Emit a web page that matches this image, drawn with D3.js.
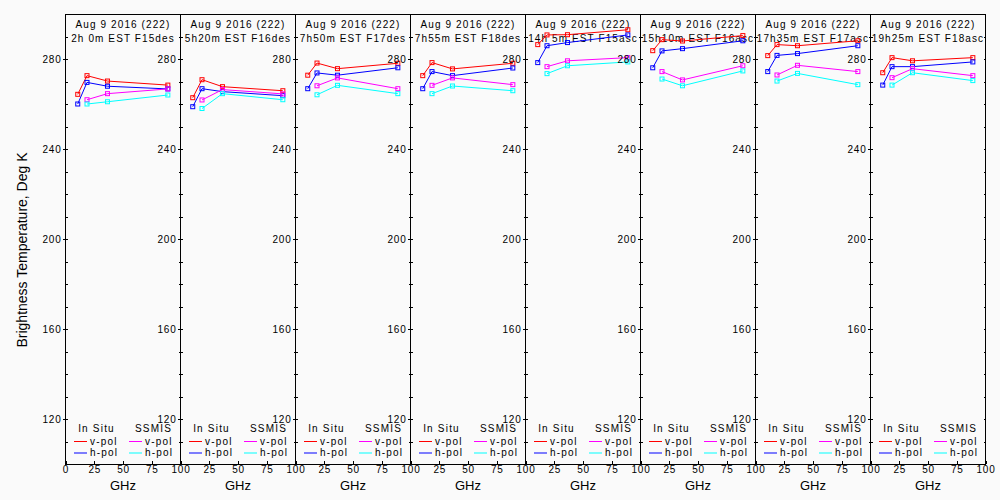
<!DOCTYPE html>
<html>
<head>
<meta charset="utf-8">
<script src="https://cdn.jsdelivr.net/npm/d3@7"></script>
<style>
body { margin: 0; background: #fafafa; }
svg { display: block; font-family: "Liberation Sans", Arial, sans-serif; }
.axis path.domain { display: none; }
.axis line { stroke: #000; shape-rendering: crispEdges; }
.axis text { fill: #000; font-size: 10px; letter-spacing: 0.8px; }
</style>
</head>
<body>
<svg id="chart" width="1000" height="500"></svg>
<script>

// channel frequencies, GHz
let inSituFreq = [10.65, 18.7, 36.5, 89]
let ssmisFreq = [18.7, 36.5, 89]

let dateLabel = "Aug  9 2016 (222)"
let passLabels = [" 2h 0m EST F15des", " 5h20m EST F16des", " 7h50m EST F17des", " 7h55m EST F18des",
    "14h 5m EST F15asc", "15h10m EST F16asc", "17h35m EST F17asc", "19h25m EST F18asc"]

// brightness temperatures (K), one row per panel
let inSituV = [
    [264.3, 272.6, 270.2, 268.4],
    [262.8, 270.8, 267.7, 265.9],
    [272.8, 278.2, 275.7, 278.1],
    [272.6, 278.4, 275.6, 278.1],
    [286.4, 290.7, 290.8, 293.0],
    [283.7, 288.6, 288.0, 290.4],
    [281.5, 286.4, 285.9, 288.1],
    [273.9, 280.6, 279.2, 280.6]
]
let inSituH = [
    [260.0, 269.6, 267.9, 266.7],
    [258.8, 266.8, 265.5, 263.7],
    [266.8, 273.8, 272.8, 276.1],
    [266.8, 274.4, 272.6, 276.0],
    [278.4, 285.9, 287.3, 290.7],
    [276.1, 283.6, 284.6, 288.1],
    [274.4, 281.6, 282.4, 285.9],
    [268.4, 276.6, 276.6, 278.7]
]
let ssmisV = [
    [261.9, 264.6, 266.7],
    [261.8, 266.4, 264.5],
    [268.1, 271.6, 266.8],
    [268.3, 271.6, 268.6],
    [276.6, 279.2, 280.6],
    [274.4, 270.7, 277.0],
    [272.9, 277.2, 274.4],
    [271.7, 275.7, 272.6]
]
let ssmisH = [
    [260.0, 261.0, 264.0],
    [258.0, 264.6, 261.9],
    [264.1, 268.3, 264.6],
    [264.6, 268.0, 265.9],
    [273.5, 277.0, 278.7],
    [271.1, 268.1, 274.7],
    [270.2, 273.6, 268.6],
    [268.4, 273.9, 270.4]
]

let yMajor = [120, 160, 200, 240, 280]
let yMinor = d3.range(110, 301, 10)
let xTicks = [0, 25, 50, 75, 100]

let series = [
    { name: "In Situ v-pol", color: "#ff0000", freq: inSituFreq, vals: inSituV },
    { name: "In Situ h-pol", color: "#0000ff", freq: inSituFreq, vals: inSituH },
    { name: "SSMIS v-pol", color: "#ff00ff", freq: ssmisFreq, vals: ssmisV },
    { name: "SSMIS h-pol", color: "#00ffff", freq: ssmisFreq, vals: ssmisH }
]

let plotLeft = 65.5, plotTop = 14, plotBottom = 464,
    pw = 115,
    nPanels = passLabels.length

let svg = d3.select("#chart")

svg.append("rect")
    .attr("width", 1000).attr("height", 500)
    .attr("fill", "#fafafa")

let y = d3.scaleLinear().domain([100, 300]).range([plotBottom, plotTop])

svg.append("text")
    .attr("transform", "translate(26.5,250) rotate(-90)")
    .attr("text-anchor", "middle")
    .style("font-size", "14px")
    .text("Brightness Temperature, Deg K")

d3.range(nPanels).forEach(function(i) {
    let x0 = plotLeft + i * pw
    let x = d3.scaleLinear().domain([0, 100]).range([x0, x0 + pw])
    let g = svg.append("g")
    let cx = x0 + pw / 2

    // panel box
    g.append("rect")
        .attr("x", x0).attr("y", plotTop)
        .attr("width", pw).attr("height", plotBottom - plotTop)
        .attr("fill", "none").attr("stroke", "#000")
        .style("shape-rendering", "crispEdges")

    // left axis: labels + outward ticks
    g.append("g").attr("class", "axis")
        .attr("transform", "translate(" + x0 + ",0)")
        .call(d3.axisLeft(y).tickValues(yMajor).tickSize(3).tickPadding(1))
    // inward minor ticks on both edges
    g.append("g").attr("class", "axis")
        .attr("transform", "translate(" + x0 + ",0)")
        .call(d3.axisRight(y).tickValues(yMinor).tickSize(2).tickFormat(""))
    g.append("g").attr("class", "axis")
        .attr("transform", "translate(" + (x0 + pw) + ",0)")
        .call(d3.axisLeft(y).tickValues(yMinor).tickSize(2).tickFormat(""))

    // bottom axis
    g.append("g").attr("class", "axis")
        .attr("transform", "translate(0," + plotBottom + ")")
        .call(d3.axisBottom(x).tickValues(i == 0 ? xTicks : xTicks.slice(1)).tickSize(-3).tickPadding(2))

    g.append("text")
        .attr("x", cx).attr("y", 490)
        .attr("text-anchor", "middle")
        .style("font-size", "13px")
        .text("GHz")

    // titles
    let tg = g.append("g")
        .style("font-size", "10px")
        .style("letter-spacing", "1.1px")
        .style("white-space", "pre")
        .attr("text-anchor", "middle")
    tg.append("text").attr("x", cx).attr("y", 28).text(dateLabel)
    tg.append("text").attr("x", cx).attr("y", 41.5).text(passLabels[i])

    // legend
    let lg = g.append("g").style("font-size", "10px").style("letter-spacing", "1.2px")
    lg.append("text").attr("x", x0 + 31).attr("y", 432).attr("text-anchor", "middle").text("In Situ")
    lg.append("text").attr("x", x0 + 88).attr("y", 432).attr("text-anchor", "middle").text("SSMIS")
    series.forEach(function(s, k) {
        let lx = x0 + (k < 2 ? 8.5 : 63.5)
        let ly = k % 2 == 0 ? 441.5 : 453
        lg.append("line")
            .attr("x1", lx).attr("x2", lx + 13)
            .attr("y1", ly).attr("y2", ly)
            .attr("stroke", s.color)
        lg.append("text")
            .attr("x", lx + 16).attr("y", ly + 3)
            .text(k % 2 == 0 ? "v-pol" : "h-pol")
    })

    // data
    series.forEach(function(s) {
        let pts = s.freq.map((f, j) => [f, s.vals[i][j]])
        g.append("path")
            .datum(pts)
            .attr("fill", "none")
            .attr("stroke", s.color)
            .attr("d", d3.line().x(d => x(d[0])).y(d => y(d[1])))
        g.selectAll(null)
            .data(pts)
            .enter().append("rect")
            .attr("x", d => x(d[0]) - 2)
            .attr("y", d => y(d[1]) - 2)
            .attr("width", 4).attr("height", 4)
            .attr("fill", "none")
            .attr("stroke", s.color)
    })
})

</script>
</body>
</html>
